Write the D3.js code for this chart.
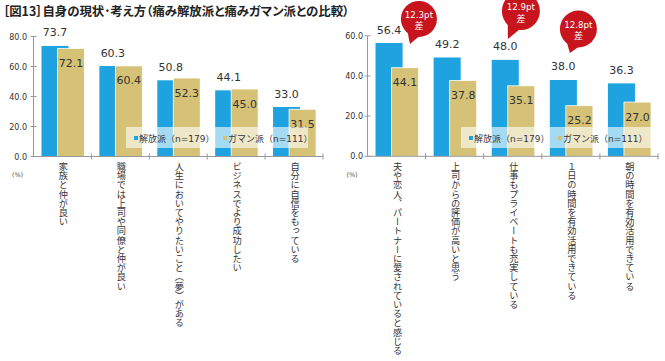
<!DOCTYPE html>
<html><head><meta charset="utf-8">
<script src="https://cdn.jsdelivr.net/npm/d3@7"></script>
<style>body{margin:0;background:#fff} svg{display:block}</style>
</head><body><svg id="c" width="665" height="361"></svg>
<script>
// ---- data ----
const title = "［図13］自身の現状･考え方（痛み解放派と痛みガマン派との比較）";
const seriesNames = ["解放派（n=179）", "ガマン派（n=111）"];
const leftCategories = ["家族と仲が良い", "職場では上司や同僚と仲が良い", "人生においてやりたいこと（夢）がある", "ビジネスでより成功したい", "自分に自信をもっている"];
const leftRelease = [73.7, 60.3, 50.8, 44.1, 33.0];
const leftEndure  = [72.1, 60.4, 52.3, 45.0, 31.5];
const leftTicks = [0, 20, 40, 60, 80];
const rightCategories = ["夫や恋人、パートナーに愛されていると感じる", "上司からの評価が高いと思う", "仕事もプライベートも充実している", "１日の時間を有効活用できている", "朝の時間を有効活用できている"];
const rightRelease = [56.4, 49.2, 48.0, 38.0, 36.3];
const rightEndure  = [44.1, 37.8, 35.1, 25.2, 27.0];
const rightTicks = [0, 20, 40, 60];
const calloutCategories = [0, 2, 3];
const calloutTexts = ["12.3pt", "12.9pt", "12.8pt"];
const calloutSub = "差";

// ---- layout / style ----
const BLUE = "#1ea2e0", KHAKI = "#d5c276", RED = "#c8141d", TXT = "#333";
const svg = d3.select("#c");
const fmt = d3.format(".1f");

svg.append("text").attr("x", 3).attr("y", 16)
  .attr("font-family", "'Noto Sans CJK JP'").attr("font-weight", "bold")
  .attr("font-size", 12.4).style("font-feature-settings", "'palt'")
  .attr("fill", "#222").text(title);

const calloutLayout = [
  {fx: 0.885, vy: 68.4, r: 18, tdx: -9, tdy: 25},
  {fx: 0.64, vy: 72.3, r: 19, tdx: -13, tdy: 28},
  {fx: 0.63, vy: 63.4, r: 18.5, tdx: -8.5, tdy: 24}
];

function panel(cfg) {
  const g = svg.append("g");
  const x = d3.scaleBand().domain(cfg.cats).range(cfg.xr).paddingInner(0).paddingOuter(0);
  const y = d3.scaleLinear().domain([0, d3.max(cfg.ticks)]).range(cfg.yr);
  const bw = x.bandwidth();
  const barW = bw * 0.466;

  // bars
  g.selectAll(".b").data(cfg.cats).join("rect")
    .attr("x", d => x(d) + bw * 0.138).attr("width", barW)
    .attr("y", (d, i) => y(cfg.a[i])).attr("height", (d, i) => y(0) - y(cfg.a[i]))
    .attr("fill", BLUE);
  g.selectAll(".k").data(cfg.cats).join("rect")
    .attr("x", d => x(d) + bw * 0.414).attr("width", barW)
    .attr("y", (d, i) => y(cfg.b[i])).attr("height", (d, i) => y(0) - y(cfg.b[i]))
    .attr("fill", KHAKI).attr("stroke", "#fff").attr("stroke-width", 0.8);

  // value labels
  g.selectAll(".va").data(cfg.cats).join("text")
    .attr("x", d => x(d) + bw * 0.138 + barW / 2).attr("y", (d, i) => y(cfg.a[i]) - 9.5)
    .attr("text-anchor", "middle").attr("font-family", "'DejaVu Sans'").attr("font-size", 11)
    .attr("fill", TXT).text((d, i) => fmt(cfg.a[i]));
  g.selectAll(".vb").data(cfg.cats).join("text")
    .attr("x", d => x(d) + bw * 0.414 + barW / 2).attr("y", (d, i) => y(cfg.b[i]) + 18.5)
    .attr("text-anchor", "middle").attr("font-family", "'DejaVu Sans'").attr("font-size", 11)
    .attr("fill", TXT).text((d, i) => fmt(cfg.b[i]));

  // legend
  const lg = g.append("g").attr("transform", `translate(${cfg.lx},127)`);
  lg.append("rect").attr("width", cfg.lw).attr("height", 21).attr("fill", "#fff").attr("opacity", 0.6);
  [[BLUE, 8, 13], [KHAKI, 97, 102]].forEach((m, i) => {
    lg.append("rect").attr("x", m[1]).attr("y", 9).attr("width", 4).attr("height", 4).attr("fill", m[0]);
    lg.append("text").attr("x", m[2]).attr("y", 14.5)
      .attr("font-family", "'DejaVu Sans','Noto Sans CJK JP'").attr("font-size", 9)
      .attr("fill", TXT).text(seriesNames[i]);
  });

  // axes
  const ax = cfg.xr[0];
  const axisColor = "#999";
  g.append("line").attr("x1", ax).attr("x2", ax).attr("y1", y(0)).attr("y2", y(d3.max(cfg.ticks)))
    .attr("stroke", axisColor);
  g.append("line").attr("x1", ax).attr("x2", cfg.xr[1]).attr("y1", y(0)).attr("y2", y(0))
    .attr("stroke", axisColor);
  g.selectAll(".yt").data(cfg.ticks).join("line")
    .attr("x1", ax - 3).attr("x2", ax + 3).attr("y1", d => y(d)).attr("y2", d => y(d)).attr("stroke", axisColor);
  g.selectAll(".yl").data(cfg.ticks).join("text")
    .attr("x", cfg.labelX).attr("y", d => y(d) + 3).attr("text-anchor", "end")
    .attr("font-family", "'DejaVu Sans'").attr("font-size", 8).attr("fill", TXT)
    .text(d => fmt(d));
  const bounds = cfg.cats.map(d => x(d)).concat([cfg.xr[1]]);
  g.selectAll(".xt").data(bounds.slice(1)).join("line")
    .attr("x1", d => d).attr("x2", d => d).attr("y1", y(0) - 3).attr("y2", y(0) + 3).attr("stroke", axisColor);
  g.append("text").attr("x", cfg.pctX).attr("y", 177).attr("text-anchor", "middle")
    .attr("font-family", "'DejaVu Sans'").attr("font-size", 6.5).attr("fill", "#555").text("(%)");

  // category labels (vertical)
  g.selectAll(".cl").data(cfg.cats).join("text")
    .attr("x", d => x(d) + bw / 2 + 1).attr("y", 162)
    .style("writing-mode", "vertical-rl").style("text-orientation", "mixed")
    .attr("font-family", "'Noto Sans CJK JP'").attr("font-size", 9.2).attr("fill", "#333")
    .text(d => d);

  // callouts
  if (cfg.callouts) {
    cfg.callouts.forEach((ci, k) => {
      const L = calloutLayout[k];
      const cx = x(cfg.cats[ci]) + bw * L.fx, cy = y(L.vy);
      const th = Math.atan2(L.tdy, L.tdx), s = 0.38;
      const p1 = [cx + L.r * 0.95 * Math.cos(th - s), cy + L.r * 0.95 * Math.sin(th - s)];
      const p2 = [cx + L.r * 0.95 * Math.cos(th + s), cy + L.r * 0.95 * Math.sin(th + s)];
      g.append("path").attr("d", `M${p1}L${cx + L.tdx},${cy + L.tdy}L${p2}Z`).attr("fill", RED);
      g.append("circle").attr("cx", cx).attr("cy", cy).attr("r", L.r).attr("fill", RED);
      g.append("text").attr("x", cx).attr("y", cy - 1).attr("text-anchor", "middle")
        .attr("font-family", "'DejaVu Sans'").attr("font-size", 8.7).attr("fill", "#fff").text(calloutTexts[k]);
      g.append("text").attr("x", cx).attr("y", cy + 10.5).attr("text-anchor", "middle")
        .attr("font-family", "'Noto Sans CJK JP'").attr("font-size", 9).attr("fill", "#fff").text(calloutSub);
    });
  }
}

panel({cats: leftCategories, a: leftRelease, b: leftEndure, ticks: leftTicks,
  xr: [33.5, 323], yr: [156.5, 36.5], labelX: 27, pctX: 17.5, lx: 126, lw: 182});
panel({cats: rightCategories, a: rightRelease, b: rightEndure, ticks: rightTicks,
  xr: [367.5, 658], yr: [156.3, 35.8], labelX: 363, pctX: 352, lx: 461, lw: 191,
  callouts: calloutCategories});
</script></body></html>
